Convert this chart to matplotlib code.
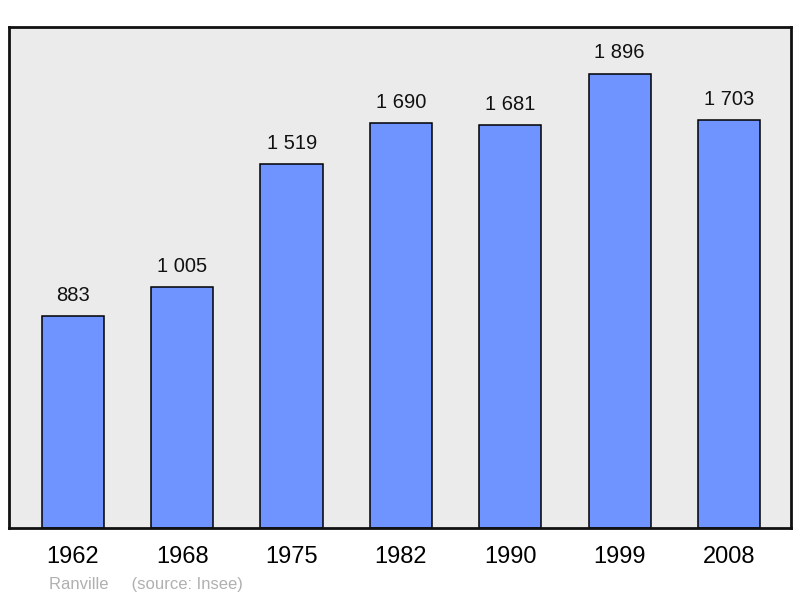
import matplotlib.pyplot as plt

years = ["1962", "1968", "1975", "1982", "1990", "1999", "2008"]
population = [883, 1005, 1519, 1690, 1681, 1896, 1703]
value_labels = ["883", "1 005", "1 519", "1 690", "1 681", "1 896", "1 703"]

plt.rcParams['font.family'] = ['Liberation Sans', 'DejaVu Sans']

fig = plt.figure(figsize=(8, 5.98), dpi=100)
ax = fig.add_axes([9/800, 1 - 528/598, 782/800, 501/598])
ax.set_facecolor('#ebebeb')

x = range(len(years))
ax.bar(x, population, width=0.57, color='#7094ff', edgecolor='black', linewidth=1.1, zorder=2)

for i, (v, lab) in enumerate(zip(population, value_labels)):
    ax.annotate(lab, (i, v), xytext=(0, 8), textcoords='offset points',
                ha='center', va='bottom', fontsize=14.5, color='#111111')

ax.set_xlim(-0.585, 6.567)
ax.set_ylim(0, 2090)
ax.set_yticks([])
ax.set_xticks(list(x))
ax.set_xticklabels(years, fontsize=17)
ax.tick_params(axis='x', length=0, pad=13)
for s in ax.spines.values():
    s.set_linewidth(2)
    s.set_color('#111111')

fig.text(49/800, 1 - 584/598, "Ranville     (source: Insee)", fontsize=12,
         color='#b0b0b0', ha='left', va='center')

fig.savefig("out.png", dpi=100)
